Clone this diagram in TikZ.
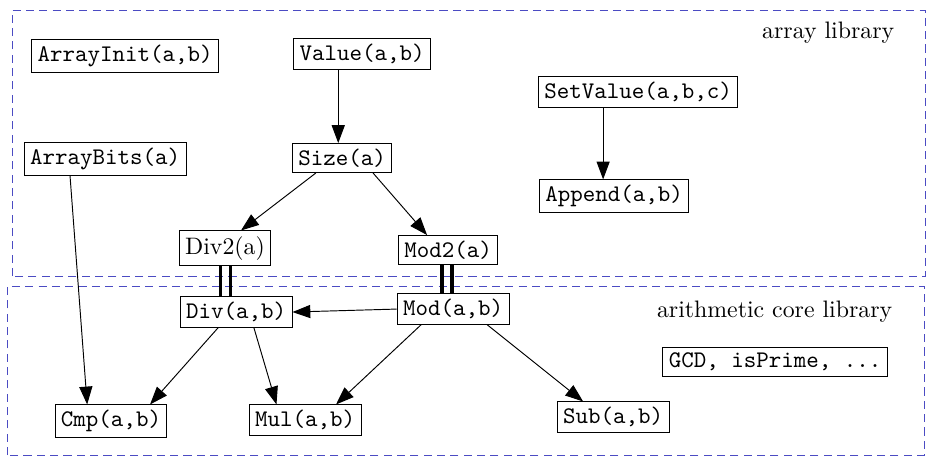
\documentclass[tikz,border=0pt]{standalone}
\usepackage{amsmath}
\usetikzlibrary{arrows.meta}

\definecolor{libblue}{RGB}{75,75,195}

\tikzset{
  fn/.style={draw, thin, inner xsep=2.5pt, inner ysep=2.2pt, font=\ttfamily},
  dep/.style={-{Triangle[length=7.5pt,width=5.5pt]}, thin},
  bar/.style={line width=1.6pt},
  lib/.style={libblue, thin, dash pattern=on 3.4pt off 2.2pt}
}

\begin{document}
\begin{tikzpicture}

\useasboundingbox (0,0) rectangle (13.68,6.775);

% library frames
\draw[lib] (0.177,2.701) rectangle (13.653,6.627);
\draw[lib] (0.111,0.059) rectangle (13.638,2.553);

\node[anchor=east] (arrlib) at (13.32,6.30) {array library};
\node[anchor=east] (corelib) at (13.29,2.17) {arithmetic core library};

% array library
\node[fn] (ArrayInit) at (1.845,5.948) {ArrayInit(a,b)};
\node[fn] (Value) at (5.343,5.978) {Value(a,b)};
\node[fn] (ArrayBits) at (1.550,4.428) {ArrayBits(a)};
\node[fn] (Size) at (5.048,4.443) {Size(a)};
\node[fn] (SetValue) at (9.417,5.417) {SetValue(a,b,c)};
\node[fn] (Append) at (9.063,3.882) {Append(a,b)};
\node[fn, font=\rmfamily] (Div2) at (3.321,3.114) {Div2(a)};
\node[fn] (Mod2) at (6.612,3.085) {Mod2(a)};

% arithmetic core library
\node[fn] (Div) at (3.483,2.170) {Div(a,b)};
\node[fn] (Mod) at (6.686,2.214) {Mod(a,b)};
\node[fn] (Cmp) at (1.638,0.561) {Cmp(a,b)};
\node[fn] (Mul) at (4.502,0.576) {Mul(a,b)};
\node[fn] (Sub) at (9.048,0.620) {Sub(a,b)};
\node[fn] (GCD) at (11.439,1.432) {GCD, isPrime, ...};

% dependencies
\draw[dep] ([xshift=-10pt]Value.south) -- ([xshift=-10pt]Value.south |- Size.north);
\draw[dep] ([xshift=-14.7pt]SetValue.south) -- ([xshift=-14.7pt]SetValue.south |- Append.north);
\draw[dep] ([xshift=-11pt]Size.south) -- ([xshift=6.7pt]Div2.north);
\draw[dep] ([xshift=13pt]Size.south) -- ([xshift=-8.8pt]Mod2.north);
\draw[dep] ([xshift=-14.7pt]ArrayBits.south) -- ([xshift=-10pt]Cmp.north);
\draw[dep] (Mod.west) -- (Div.east);
\draw[dep] ([xshift=-7.5pt]Div.south) -- ([xshift=16.4pt]Cmp.north);
\draw[dep] ([xshift=7.5pt]Div.south) -- ([xshift=-12pt]Mul.north);
\draw[dep] ([xshift=-13.4pt]Mod.south) -- ([xshift=13pt]Mul.north);
\draw[dep] ([xshift=14.3pt]Mod.south) -- ([xshift=-12.6pt]Sub.north);

% same function in both libraries
\draw[bar] ([xshift=-1.9pt]Div2.south) -- ([xshift=-1.9pt]Div2.south |- Div.north);
\draw[bar] ([xshift=2.3pt]Div2.south) -- ([xshift=2.3pt]Div2.south |- Div.north);
\draw[bar] ([xshift=-2.6pt]Mod2.south) -- ([xshift=-2.6pt]Mod2.south |- Mod.north);
\draw[bar] ([xshift=1.8pt]Mod2.south) -- ([xshift=1.8pt]Mod2.south |- Mod.north);

\end{tikzpicture}
\end{document}
